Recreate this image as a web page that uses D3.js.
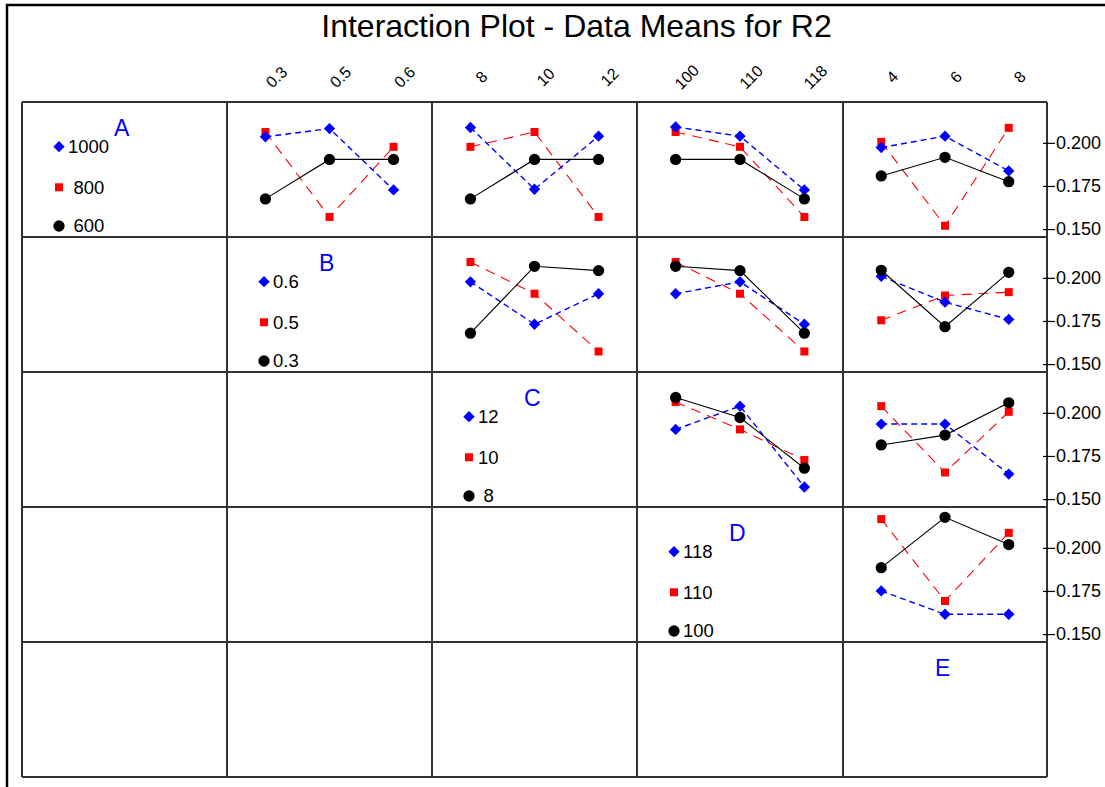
<!DOCTYPE html>
<html>
<head>
<meta charset="utf-8">
<script src="https://cdn.jsdelivr.net/npm/d3@7"></script>
<style>
  html, body { margin: 0; padding: 0; background: #fff; }
  svg { display: block; font-family: "Liberation Sans", Arial, sans-serif; }
</style>
</head>
<body>
<svg id="chart" width="1105" height="787"></svg>
<script>
// ---------------- DATA ----------------
const chartTitle = "Interaction Plot - Data Means for R2";
const factorNames = ["A", "B", "C", "D", "E"];
const levelsA = ["600", "800", "1000"];
const levelsB = ["0.3", "0.5", "0.6"];
const levelsC = ["8", "10", "12"];
const levelsD = ["100", "110", "118"];
const levelsE = ["4", "6", "8"];
const yTickValues = [0.150, 0.175, 0.200];

// each panel: [series level 1 (black), level 2 (red), level 3 (blue)] over the column factor levels
const AxB = [[0.1675, 0.1904, 0.1904], [0.2063, 0.1570, 0.1977], [0.2035, 0.2083, 0.1727]];
const AxC = [[0.1675, 0.1904, 0.1904], [0.1977, 0.2063, 0.1570], [0.2089, 0.1731, 0.2039]];
const AxD = [[0.1904, 0.1904, 0.1675], [0.2063, 0.1977, 0.1570], [0.2092, 0.2039, 0.1727]];
const AxE = [[0.1808, 0.1916, 0.1775], [0.2006, 0.1519, 0.2087], [0.1973, 0.2039, 0.1837]];
const BxC = [[0.1679, 0.2067, 0.2042], [0.2092, 0.1908, 0.1573], [0.1977, 0.1731, 0.1908]];
const BxD = [[0.2067, 0.2042, 0.1679], [0.2092, 0.1908, 0.1573], [0.1908, 0.1977, 0.1731]];
const BxE = [[0.2044, 0.1717, 0.2032], [0.1754, 0.1898, 0.1917], [0.2009, 0.1859, 0.1759]];
const CxD = [[0.2089, 0.1973, 0.1679], [0.2063, 0.1904, 0.1727], [0.1904, 0.2039, 0.1570]];
const CxE = [[0.1814, 0.1871, 0.2058], [0.2039, 0.1654, 0.2006], [0.1935, 0.1935, 0.1645]];
const DxE = [[0.1885, 0.2177, 0.2019], [0.2167, 0.1692, 0.2087], [0.1750, 0.1615, 0.1615]];

// ---------------- LAYOUT / STYLE ----------------
const levels = [levelsA, levelsB, levelsC, levelsD, levelsE];
const panels = [
  {r: 0, c: 1, data: AxB}, {r: 0, c: 2, data: AxC}, {r: 0, c: 3, data: AxD}, {r: 0, c: 4, data: AxE},
  {r: 1, c: 2, data: BxC}, {r: 1, c: 3, data: BxD}, {r: 1, c: 4, data: BxE},
  {r: 2, c: 3, data: CxD}, {r: 2, c: 4, data: CxE},
  {r: 3, c: 4, data: DxE}
];
const colEdges = [22, 227, 432, 637, 843, 1047];
const rowEdges = [102, 237, 372, 507, 642, 777];
const rowH = 135;

const seriesStyle = [
  {color: "#000000", dash: null, width: 1.1, shape: "circle"},
  {color: "#ff0000", dash: "10,7", width: 1.1, shape: "square"},
  {color: "#0000ff", dash: "6,4", width: 1.4, shape: "diamond"}
];
const drawOrder = [1, 2, 0];

const svg = d3.select("#chart");

// outer frame
svg.append("rect").attr("x", 7).attr("y", 5).attr("width", 1200).attr("height", 900)
  .attr("fill", "none").attr("stroke", "#000").attr("stroke-width", 2.5);

// title
svg.append("text").attr("x", 576.5).attr("y", 37).attr("text-anchor", "middle")
  .attr("font-size", 32).attr("fill", "#000").text(chartTitle);

// scales
const y = d3.scaleLinear().domain([0.1454, 0.2237]).range([rowH, 0]);
function xScale(c) {
  return d3.scalePoint().domain(levels[c]).range([colEdges[c], colEdges[c + 1]]).padding(0.6);
}

// top tick labels
for (let c = 1; c < 5; c++) {
  const x = xScale(c);
  svg.append("g").selectAll("text").data(levels[c]).join("text")
    .attr("transform", d => `translate(${x(d) + 11},77) rotate(-45)`)
    .attr("text-anchor", "middle").attr("dy", "0.35em")
    .attr("font-size", 16).attr("fill", "#000").text(d => d);
}

// grid
const grid = svg.append("g").attr("stroke", "#333").attr("stroke-width", 2);
colEdges.forEach(xv => grid.append("line").attr("x1", xv).attr("x2", xv)
  .attr("y1", rowEdges[0]).attr("y2", rowEdges[5]));
rowEdges.forEach(yv => grid.append("line").attr("x1", colEdges[0]).attr("x2", colEdges[5])
  .attr("y1", yv).attr("y2", yv));

// right y axes
for (let r = 0; r < 4; r++) {
  const g = svg.append("g").attr("transform", `translate(1043,${rowEdges[r]})`)
    .call(d3.axisRight(y).tickValues(yTickValues).tickSize(12).tickPadding(1).tickFormat(d3.format(".3f")));
  g.select(".domain").remove();
  g.selectAll(".tick line").attr("stroke", "#000").attr("stroke-width", 1.2);
  g.selectAll(".tick text").attr("font-size", 18).attr("fill", "#000")
    .attr("font-family", "'Liberation Sans', Arial, sans-serif");
}

// marker helper
function marker(sel, shape, color) {
  if (shape === "circle") {
    sel.append("path").attr("d", d3.symbol(d3.symbolCircle, 100)()).attr("fill", color);
  } else if (shape === "square") {
    sel.append("path").attr("d", d3.symbol(d3.symbolSquare, 64)()).attr("fill", color);
  } else {
    sel.append("path").attr("d", d3.symbol(d3.symbolSquare, 64)()).attr("transform", "rotate(45)").attr("fill", color);
  }
}

// panels
panels.forEach(p => {
  const x = xScale(p.c);
  const lv = levels[p.c];
  const g = svg.append("g").attr("transform", `translate(0,${rowEdges[p.r]})`);
  const line = d3.line().x((d, i) => x(lv[i])).y(d => y(d));
  drawOrder.forEach(s => {
    const st = seriesStyle[s];
    g.append("path").attr("d", line(p.data[s])).attr("fill", "none")
      .attr("stroke", st.color).attr("stroke-width", st.width)
      .attr("stroke-dasharray", st.dash);
  });
  drawOrder.forEach(s => {
    const st = seriesStyle[s];
    p.data[s].forEach((v, i) => {
      const m = g.append("g").attr("transform", `translate(${x(lv[i])},${y(v)})`);
      marker(m, st.shape, st.color);
    });
  });
});

// diagonal legends
const legendOffsets = [44.7, 85.3, 124];
for (let k = 0; k < 5; k++) {
  const left = colEdges[k], top = rowEdges[k];
  svg.append("text").attr("x", left + 92).attr("y", top + 33.5)
    .attr("font-size", 23).attr("fill", "#0000ff").text(factorNames[k]);
  if (k === 4) continue;
  const lv = levels[k];
  const maxLen = d3.max(lv, d => d.length);
  [2, 1, 0].forEach((s, j) => {
    const st = seriesStyle[s];
    const yy = top + legendOffsets[j];
    const m = svg.append("g").attr("transform", `translate(${left + 37},${yy})`);
    marker(m, st.shape, st.color);
    svg.append("text").attr("x", left + 46 + (maxLen - lv[s].length) * 5.5).attr("y", yy)
      .attr("dy", "0.35em").attr("font-size", 18.5).attr("fill", "#000").text(lv[s]);
  });
}
</script>
</body>
</html>
